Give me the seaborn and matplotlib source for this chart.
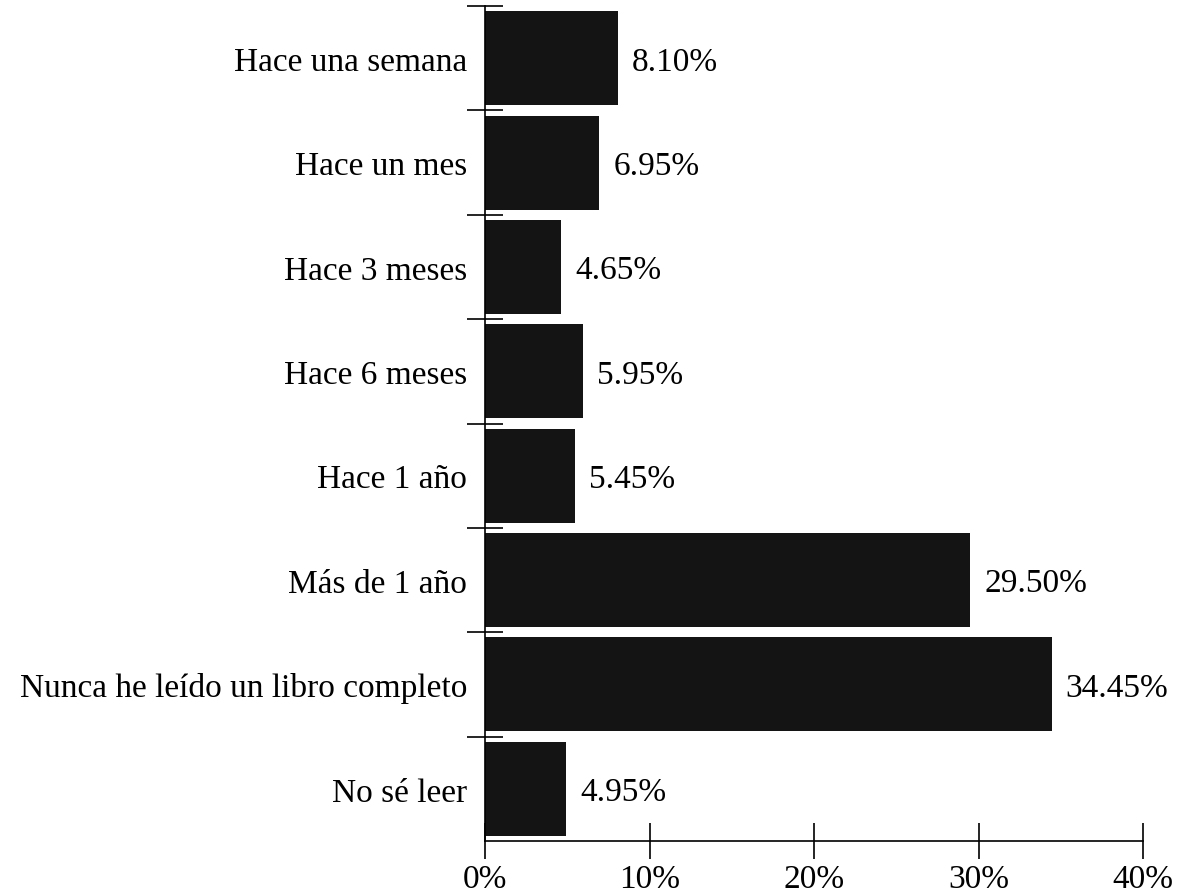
import matplotlib
matplotlib.use("Agg")
import matplotlib.pyplot as plt
import seaborn as sns
import pandas as pd
from matplotlib.ticker import FixedLocator, PercentFormatter

categories = ["Hace una semana", "Hace un mes", "Hace 3 meses", "Hace 6 meses",
              "Hace 1 año", "Más de 1 año", "Nunca he leído un libro completo", "No sé leer"]
values = [8.10, 6.95, 4.65, 5.95, 5.45, 29.50, 34.45, 4.95]
xticks = [0, 10, 20, 30, 40]

sns.set_theme(style="white")
plt.rcParams['font.family'] = ['Liberation Serif', 'DejaVu Serif']

df = pd.DataFrame({"cat": categories, "val": values})

fig = plt.figure(figsize=(11.77, 8.95), dpi=100)
ax = fig.add_axes([485/1177, 1-842/895, (1143-485)/1177, (842-7)/895])
sns.barplot(data=df, x="val", y="cat", orient="h", color="#141414",
            saturation=1, width=0.9, ax=ax, edgecolor="none")

ax.set_xlim(0, 40)
ax.set_ylim(len(categories) - 0.5, -0.5)
ax.set_xlabel("")
ax.set_ylabel("")

for sp in ["top", "right"]:
    ax.spines[sp].set_visible(False)
for sp in ["left", "bottom"]:
    ax.spines[sp].set_color("black")
    ax.spines[sp].set_linewidth(1.2)

# y labels at centers (no tick marks), tick marks at boundaries
ax.set_yticks(range(len(categories)))
ax.set_yticklabels(categories, fontsize=24)
ax.tick_params(axis="y", which="major", length=0, pad=13, colors="black")
ax.yaxis.set_minor_locator(FixedLocator([i - 0.5 for i in range(len(categories))]))
ax.tick_params(axis="y", which="minor", direction="inout", length=26, width=1.2,
               color="black", left=True)

ax.set_xticks(xticks)
ax.xaxis.set_major_formatter(PercentFormatter(decimals=0))
ax.tick_params(axis="x", which="major", direction="inout", length=26, width=1.2,
               color="black", labelsize=24, pad=3, bottom=True)
for lab in ax.get_xticklabels():
    lab.set_color("black")

for i, v in enumerate(values):
    ax.text(v + 0.85, i + 0.03, f"{v:.2f}%", va="center", ha="left", fontsize=24, color="black")

ax.grid(False)
fig.savefig("out.png", dpi=100)
